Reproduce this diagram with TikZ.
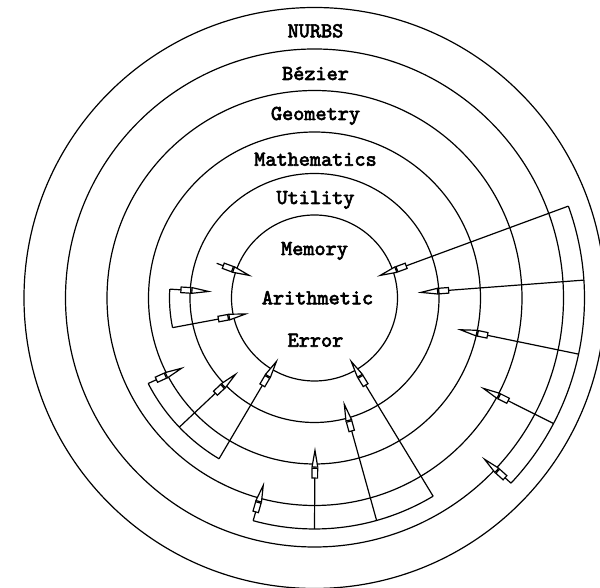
\documentclass[tikz,border=0pt]{standalone}
\usepackage{fontspec}
\newfontfamily\layerfont{lmmono10-regular.otf}[FakeBold=3]
\usetikzlibrary{arrows.meta}

\tikzset{
  ring/.style={line width=0.6pt},
  layer/.style={anchor=base,font=\layerfont\fontsize{10.6}{12}\selectfont},
  uses/.style={line width=0.6pt,
    -{Rectangle[fill=white,length=5.5pt,width=3.4pt,sep=0pt]Triangle[fill=white,length=10.5pt,width=3.4pt,sep=0pt]}}
}

\begin{document}
\begin{tikzpicture}[x=0.5pt,y=0.5pt]
  \useasboundingbox (-314.5,-290) rectangle (285.5,298);
  % the layers
  \foreach \r in {83,124.5,166,207.5,249,290.5}
    \draw[ring] (0,0) circle (\r);
  \node[layer] (nurbs) at (1,260.7) {NURBS};
  \node[layer] (bezier) at (1,218) {Bézier};
  \node[layer] (geometry) at (1,178) {Geometry};
  \node[layer] (maths) at (1,132.3) {Mathematics};
  \node[layer] (utility) at (1,94) {Utility};
  \node[layer] (memory) at (0,43) {Memory};
  \node[layer] (arith) at (3,-6.3) {Arithmetic};
  \node[layer] (error) at (1,-48.7) {Error};

  % NURBS
  \draw[ring] (19.9:270) arc[start angle=19.9,end angle=-43.3,radius=270];
  \foreach \a/\tx/\ty in {19.9/62.2/21.3, 3.8/102.8/5.3, -12/142.2/-31,
                          -27.7/165.5/-88.7, -43.3/167.2/-158.7}
    \draw[uses] (\a:270) -- (\tx,\ty);

  % Bezier
  \draw[ring] (-105.4:231) arc[start angle=-105.4,end angle=-59.1,radius=231];
  \foreach \a/\tx/\ty in {-105.4/-50.2/-183.7, -90/0.5/-148.7,
                          -74.4/28.8/-102.7, -59.1/34.8/-60.3}
    \draw[uses] (\a:231) -- (\tx,\ty);

  % Geometry
  \draw[ring] (-152.8:187) arc[start angle=-152.8,end angle=-120.7,radius=187];
  \foreach \a/\tx/\ty in {-152.8/-129.5/-68.7, -136.3/-76.2/-73.7,
                          -120.7/-36.2/-60.3}
    \draw[uses] (\a:187) -- (\tx,\ty);

  % Mathematics
  \draw[ring] (176.5:145) arc[start angle=176.5,end angle=191.8,radius=145];
  \draw[uses] (176.5:145) -- (-102.2,6.3);
  \draw[uses] (191.8:145) -- (-65.2,-15.3);

  % Utility
  \draw[uses] (-97.8,34.7) -- (-61.8,21.3);
\end{tikzpicture}
\end{document}
